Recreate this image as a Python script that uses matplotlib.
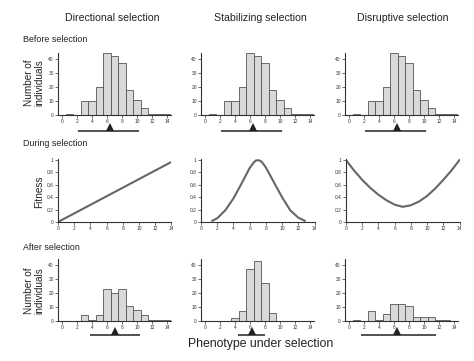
import matplotlib
matplotlib.use("Agg")
import matplotlib.pyplot as plt

plt.rcParams['font.family'] = ['Liberation Sans', 'DejaVu Sans']

W, H = 474, 361

# phenotype classes (bar centres)
pheno = list(range(1, 15))

# counts
before = [1, 0, 10, 10, 20, 44, 42, 37, 18, 11, 5, 1, 1, 1]
after_directional = [0, 0, 4, 1, 4, 23, 20, 23, 11, 8, 4, 1, 1, 1]
after_stabilizing = [0, 0, 0, 2, 7, 37, 43, 27, 6, 0, 0, 0, 0, 0]
after_disruptive = [1, 0, 7, 1, 5, 12.5, 12.5, 11, 3, 3, 3, 1, 1, 0]

# mean (triangle) and spread (bar) under each histogram
before_mean, before_lo, before_hi = [6.4, 6.4, 6.4], [2.2, 2.2, 2.2], [10.3, 10.3, 10.3]
after_mean = [7.1, 6.3, 6.4]
after_lo = [3.7, 4.4, 1.6]
after_hi = [10.4, 8.0, 11.6]

# fitness curves
dir_x = [0, 14]
dir_y = [0, 0.97]
stab_x = [1.4, 2, 3, 4, 5, 6, 6.5, 6.8, 7.2, 7.5, 8, 9, 10, 11, 12, 12.8]
stab_y = [0.02, 0.06, 0.19, 0.38, 0.62, 0.87, 0.96, 0.995, 0.995, 0.97, 0.88, 0.64, 0.40, 0.19, 0.07, 0.02]
disr_x = [0, 1, 2, 3, 4, 5, 6, 7, 8, 9, 10, 11, 12, 13, 14]
disr_y = [1.0, 0.83, 0.68, 0.55, 0.44, 0.35, 0.28, 0.245, 0.27, 0.33, 0.42, 0.54, 0.68, 0.83, 1.0]

col_titles = ["Directional selection", "Stabilizing selection", "Disruptive selection"]

fig = plt.figure(figsize=(W / 100, H / 100), dpi=100)


def px_axes(left, top, right, bottom):
    return fig.add_axes([left / W, 1 - bottom / H, (right - left) / W, (bottom - top) / H])


def style(ax):
    for s in ("top", "right"):
        ax.spines[s].set_visible(False)
    for s in ("left", "bottom"):
        ax.spines[s].set_color("#333333")
        ax.spines[s].set_linewidth(0.8)
    ax.tick_params(labelsize=3.5, length=2, width=0.5, pad=1, colors="#333333")


def histogram(ax, counts):
    ax.bar(pheno, counts, width=1, color="#d9d9d9", edgecolor="#555555", linewidth=0.6)
    ax.set_xlim(-0.5, 14.5)
    ax.set_ylim(0, 44)
    ax.set_xticks(range(0, 15, 2))
    ax.set_yticks(range(0, 41, 10))
    style(ax)


def mean_bar(ax, m, lo, hi):
    ax.hlines(0.12, lo, hi, color="#222222", linewidth=1.1)
    ax.plot([m], [0.42], marker="^", markersize=5.2, color="#222222", markeredgewidth=0)
    ax.set_xlim(-0.5, 14.5)
    ax.set_ylim(0, 1)
    ax.axis("off")


lefts = [58, 201, 345]
fit_lefts = [58, 201, 346]
fit_data = [(dir_x, dir_y), (stab_x, stab_y), (disr_x, disr_y)]
afters = [after_directional, after_stabilizing, after_disruptive]

for i in range(3):
    l = lefts[i]
    # before selection
    ax = px_axes(l, 53.4, l + 113, 115)
    histogram(ax, before)
    mean_bar(px_axes(l, 120, l + 113, 132), before_mean[i], before_lo[i], before_hi[i])

    # fitness
    fl = fit_lefts[i]
    ax = px_axes(fl, 158.8, fl + 113.5, 222)
    ax.plot(fit_data[i][0], fit_data[i][1], color="#666666", linewidth=1.5)
    ax.set_xlim(0, 14)
    ax.set_ylim(0, 1.02)
    ax.set_xticks(range(0, 15, 2))
    ax.set_yticks([0, 0.2, 0.4, 0.6, 0.8, 1])
    ax.set_yticklabels(["0", "0.2", "0.4", "0.6", "0.8", "1"])
    style(ax)

    # after selection
    ax = px_axes(l, 259.4, l + 113, 321)
    histogram(ax, afters[i])
    mean_bar(px_axes(l, 324, l + 113, 336), after_mean[i], after_lo[i], after_hi[i])

# column titles
for x, t in zip([112, 260, 403], col_titles):
    fig.text(x / W, 1 - 18 / H, t, ha="center", va="center", fontsize=7.6, color="#222222")

# row labels
for y, t in zip([39, 144, 248], ["Before selection", "During selection", "After selection"]):
    fig.text(23 / W, 1 - y / H, t, ha="left", va="center", fontsize=6.4, color="#222222")

fig.text(34 / W, 1 - 83 / H, "Number of\nindividuals", rotation=90, ha="center", va="center",
         fontsize=7.2, color="#222222", linespacing=1.0)
fig.text(34 / W, 1 - 291 / H, "Number of\nindividuals", rotation=90, ha="center", va="center",
         fontsize=7.2, color="#222222", linespacing=1.0)
fig.text(39 / W, 1 - 192 / H, "Fitness", rotation=90, ha="center", va="center",
         fontsize=7.2, color="#222222")
fig.text(261 / W, 1 - 344 / H, "Phenotype under selection", ha="center", va="center",
         fontsize=8.8, color="#222222")

fig.savefig("out.png", dpi=100, facecolor="white")
